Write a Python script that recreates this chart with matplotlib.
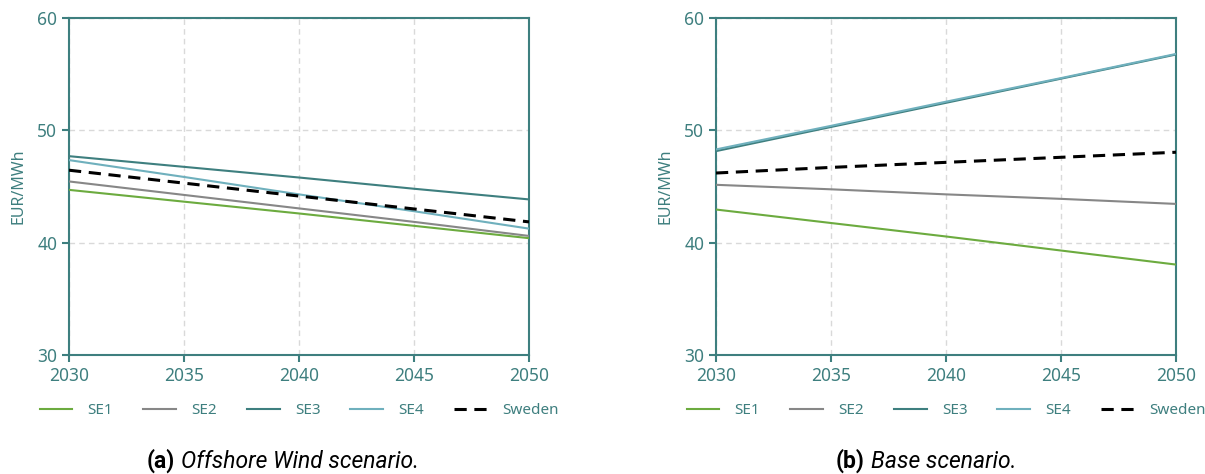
import matplotlib
matplotlib.use("Agg")
import matplotlib.pyplot as plt

years = [2030, 2035, 2040, 2045, 2050]

# Offshore Wind scenario (EUR/MWh)
ow_se1 = [44.7, 43.65, 42.6, 41.5, 40.4]
ow_se2 = [45.45, 44.25, 43.05, 41.85, 40.6]
ow_se3 = [47.7, 46.75, 45.8, 44.8, 43.85]
ow_se4 = [47.35, 45.85, 44.3, 42.8, 41.25]
ow_sweden = [46.45, 45.3, 44.15, 43.0, 41.85]

# Base scenario (EUR/MWh)
base_se1 = [42.95, 41.75, 40.55, 39.3, 38.05]
base_se2 = [45.15, 44.75, 44.3, 43.9, 43.45]
base_se3 = [48.15, 50.3, 52.45, 54.6, 56.75]
base_se4 = [48.3, 50.4, 52.55, 54.65, 56.8]
base_sweden = [46.2, 46.7, 47.15, 47.6, 48.05]

labels = ["SE1", "SE2", "SE3", "SE4", "Sweden"]
colors = ["#6cab3f", "#878787", "#3e7f7f", "#6fb0bd", "#000000"]
captions = [("(a)", "Offshore Wind scenario."), ("(b)", "Base scenario.")]

teal = "#3e7f7f"
plt.rcParams["font.family"] = ["Noto Sans", "DejaVu Sans"]

fig = plt.figure(figsize=(12.05, 4.74), dpi=100)
renderer = fig.canvas.get_renderer()
panels = [
    [ow_se1, ow_se2, ow_se3, ow_se4, ow_sweden],
    [base_se1, base_se2, base_se3, base_se4, base_sweden],
]
lefts = [69 / 1205, 716 / 1205]
caption_x = [147 / 1205, 836 / 1205]
width = 460 / 1205
bottom = 1 - 355 / 474
height = (355 - 18) / 474

for i, series in enumerate(panels):
    ax = fig.add_axes([lefts[i], bottom, width, height])
    for s, lab, col in zip(series, labels, colors):
        if lab == "Sweden":
            ax.plot(years, s, color=col, lw=2.2, ls=(0, (4, 2.5)), label=lab, zorder=4)
        else:
            ax.plot(years, s, color=col, lw=1.5, label=lab, zorder=3)
    ax.set_xlim(2030, 2050)
    ax.set_ylim(30, 60)
    ax.set_xticks(years)
    ax.set_yticks([30, 40, 50, 60])
    ax.grid(True, color="#d9d9d9", ls=(0, (4, 3)), lw=1)
    for sp in ax.spines.values():
        sp.set_color(teal)
        sp.set_linewidth(1.5)
    ax.tick_params(colors=teal, labelcolor=teal, labelsize=12.5, width=1.5,
                   length=5, direction="out")
    ax.set_ylabel("EUR/MWh", color=teal, fontsize=11.5, labelpad=8)
    leg = ax.legend(loc="center", bbox_to_anchor=(0.5, -0.166), ncol=5,
                    frameon=False, fontsize=11, handlelength=2.15,
                    columnspacing=1.95, handletextpad=1.0)
    for t in leg.get_texts():
        t.set_color(teal)

    # sub-caption: bold tag followed by italic description
    tag, rest = captions[i]
    y = 1 - 461 / 474
    t1 = fig.text(caption_x[i], y, tag, ha="left", va="center",
                  fontsize=16.5, fontweight="bold", family="Roboto")
    bb = t1.get_window_extent(renderer=renderer)
    x2 = (bb.x1 + 6) / fig.bbox.width
    fig.text(x2, y, rest, ha="left", va="center",
             fontsize=16.5, style="italic", family="Roboto")

fig.savefig("out.png", dpi=100)
